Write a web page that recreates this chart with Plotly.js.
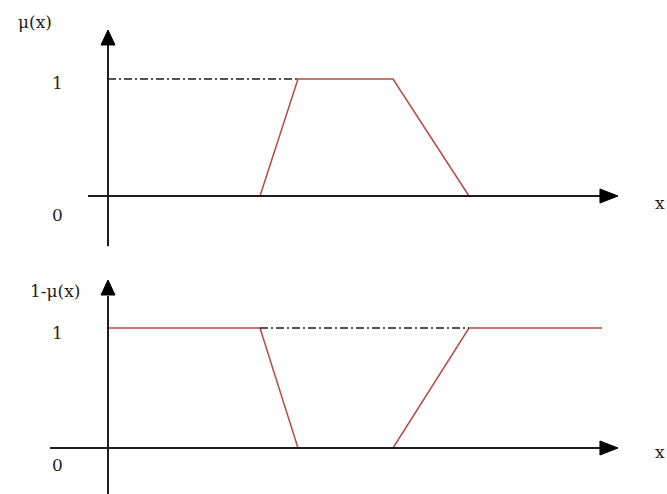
<!DOCTYPE html>
<html>
<head>
<meta charset="utf-8">
<script src="https://cdn.plot.ly/plotly-3.0.1.min.js"></script>
<style>html,body{margin:0;padding:0;background:#fff;}#chart{width:667px;height:494px;}</style>
</head>
<body>
<div id="chart"></div>
<script>
// Breakpoints of the trapezoidal membership function
const xPoints = [4, 5, 7.5, 9.5];
const muValues = [0, 1, 1, 0];
// Complement 1 - mu(x), extended to the axis ends
const xComplement = [0, 4, 5, 7.5, 9.5, 13];
const complementValues = [1, 1, 0, 0, 1, 1];
const topLabels = ["μ(x)", "1", "0", "x"];
const bottomLabels = ["1-μ(x)", "1", "0", "x"];

const red = "#b84a42";
const ink = "#1e1e1e";
const pxPerUnit = 38;
const xRange = [-108 / pxPerUnit, (667 - 108) / pxPerUnit];

const traces = [
  {x: xPoints, y: muValues, xaxis: "x", yaxis: "y", mode: "lines",
   line: {color: red, width: 1.5}, hoverinfo: "skip"},
  {x: [0, xPoints[1]], y: [1, 1], xaxis: "x", yaxis: "y", mode: "lines",
   line: {color: ink, width: 1.5, dash: "8px,3px,2px,3px"}, hoverinfo: "skip"},
  {x: xComplement, y: complementValues, xaxis: "x2", yaxis: "y2", mode: "lines",
   line: {color: red, width: 1.5}, hoverinfo: "skip"},
  {x: [xPoints[0], xPoints[3]], y: [1, 1], xaxis: "x2", yaxis: "y2", mode: "lines",
   line: {color: ink, width: 1.5, dash: "8px,3px,2px,3px"}, hoverinfo: "skip"}
];

function axisLine(xr, yr, x0, y0, x1, y1) {
  return {type: "line", xref: xr, yref: yr, x0: x0, y0: y0, x1: x1, y1: y1,
          line: {color: ink, width: 2}, layer: "above"};
}
function arrowHead(xr, yr, xa, ya, path) {
  return {type: "path", xref: xr, yref: yr, xsizemode: "pixel", ysizemode: "pixel",
          xanchor: xa, yanchor: ya, path: path,
          fillcolor: "#000", line: {color: "#000", width: 1}, layer: "above"};
}
const upPath = "M0,0 L-7,-15 L7,-15 Z";
const rightPath = "M0,0 L-18,7 L-18,-7 Z";

const shapes = [
  // top panel
  axisLine("x", "y", 0, -0.43, 0, 1.29),
  axisLine("x", "y", -0.526, 0, 12.95, 0),
  arrowHead("x", "y", 0, 1.419, upPath),
  arrowHead("x", "y", 13.42, 0, rightPath),
  // bottom panel
  axisLine("x2", "y2", 0, -0.4, 0, 1.267),
  axisLine("x2", "y2", -1.526, 0, 12.95, 0),
  arrowHead("x2", "y2", 0, 1.4, upPath),
  arrowHead("x2", "y2", 13.42, 0, rightPath)
];

const font = {family: "DejaVu Serif, Liberation Serif, serif", size: 17, color: "#222"};
function label(text, xr, yr, x, y) {
  return {text: text, xref: xr, yref: yr, x: x, y: y, showarrow: false,
          xanchor: "center", yanchor: "middle", font: font};
}
const annotations = [
  label(topLabels[0], "x", "y", -1.92, 1.487),
  label(topLabels[1], "x", "y", -1.34, 0.966),
  label(topLabels[2], "x", "y", -1.34, -0.162),
  label(topLabels[3], "x", "y", 14.53, -0.06),
  label(bottomLabels[0], "x2", "y2", -1.39, 1.308),
  label(bottomLabels[1], "x2", "y2", -1.34, 0.958),
  label(bottomLabels[2], "x2", "y2", -1.34, -0.142),
  label(bottomLabels[3], "x2", "y2", 14.53, -0.033)
];

const hidden = {showgrid: false, zeroline: false, showline: false, showticklabels: false, ticks: "", fixedrange: true};
const layout = {
  width: 667, height: 494,
  margin: {l: 0, r: 0, t: 0, b: 0},
  paper_bgcolor: "#fff", plot_bgcolor: "#fff",
  showlegend: false,
  xaxis: Object.assign({}, hidden, {range: xRange, anchor: "y"}),
  yaxis: Object.assign({}, hidden, {range: [(196 - 247) / 117, 196 / 117], domain: [0.5, 1]}),
  xaxis2: Object.assign({}, hidden, {range: xRange, anchor: "y2"}),
  yaxis2: Object.assign({}, hidden, {range: [(448 - 494) / 120, (448 - 247) / 120], domain: [0, 0.5]}),
  shapes: shapes,
  annotations: annotations
};
Plotly.newPlot("chart", traces, layout, {staticPlot: true, displayModeBar: false});
</script>
</body>
</html>
